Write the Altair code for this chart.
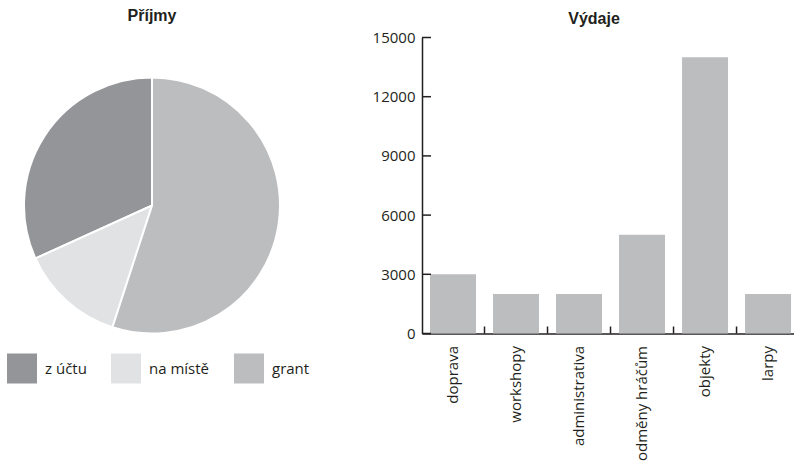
import altair as alt
import pandas as pd

# Příjmy (income) by source
income_labels = ["z účtu", "na místě", "grant"]
income_values = [8900, 3700, 15400]
income_colors = ["#939598", "#e1e2e3", "#bcbdbf"]

# Výdaje (expenses) by item
expense_labels = ["doprava", "workshopy", "administrativa", "odměny hráčům", "objekty", "larpy"]
expense_values = [3000, 2000, 2000, 5000, 14000, 2000]
y_ticks = [0, 3000, 6000, 9000, 12000, 15000]

FONT = "Open Sans"
TITLE_FONT = "Liberation Sans"
INK = "#231f20"
BAR = "#bcbdbf"

income = pd.DataFrame({
    "zdroj": income_labels,
    "castka": income_values,
    "poradi": list(range(len(income_labels))),
})
expense = pd.DataFrame({"polozka": expense_labels, "castka": expense_values})
tick_y = pd.DataFrame({"castka": y_ticks})
tick_x = pd.DataFrame({"polozka": expense_labels[1:]})

# --- pie -------------------------------------------------------------------
pie = (
    alt.Chart(
        income,
        title=alt.Title("Příjmy", font=TITLE_FONT, fontSize=16, fontWeight=900,
                        color=INK, anchor="middle", frame="group", offset=14),
    )
    .mark_arc(outerRadius=128, stroke="white", strokeWidth=2)
    .encode(
        theta=alt.Theta("castka:Q", stack=True),
        color=alt.Color(
            "zdroj:N",
            scale=alt.Scale(domain=income_labels, range=income_colors),
            legend=alt.Legend(
                title=None, orient="none", direction="horizontal",
                legendX=7, legendY=316,
                symbolType="square", symbolSize=900, symbolStrokeWidth=0,
                symbolOpacity=1, labelFont=FONT, labelFontSize=15,
                labelColor=INK, labelOffset=8, columnPadding=24,
            ),
        ),
        order=alt.Order("poradi:Q", sort="descending"),
    )
    .properties(width=304, height=336)
)

# --- bars ------------------------------------------------------------------
x_scale = alt.Scale(domain=expense_labels, paddingInner=0.27, paddingOuter=0.087, align=0.73)
x_axis = alt.Axis(
    labelAngle=-90, labelFont=FONT, labelFontSize=15, labelColor=INK,
    labelPadding=12, ticks=False, domainColor=INK, domainWidth=1.5,
)
y_axis = alt.Axis(
    values=y_ticks, format="d", labelFont=FONT, labelFontSize=15, labelColor=INK,
    labelPadding=7, ticks=False, grid=False, domainColor=INK, domainWidth=1.5,
)
y_scale = alt.Scale(domain=[0, 15000], nice=False)

bars = alt.Chart(expense).mark_bar(color=BAR).encode(
    x=alt.X("polozka:N", scale=x_scale, axis=x_axis, title=None, sort=expense_labels),
    y=alt.Y("castka:Q", scale=y_scale, axis=y_axis, title=None),
)

# inward ticks on the value axis
y_tick_marks = alt.Chart(tick_y).mark_tick(
    color=INK, orient="horizontal", size=9, thickness=1.5, opacity=1
).encode(
    y=alt.Y("castka:Q", scale=y_scale, axis=y_axis, title=None),
    x=alt.value(4.5),
)

# upward ticks between the categories
x_tick_marks = alt.Chart(tick_x).mark_rule(color=INK, strokeWidth=1.5, xOffset=-8.5).encode(
    x=alt.X("polozka:N", scale=x_scale, axis=x_axis, title=None,
            sort=expense_labels, bandPosition=0),
    y=alt.value(296),
    y2=alt.value(289),
)

bar_chart = (
    alt.layer(
        bars, y_tick_marks, x_tick_marks,
        title=alt.Title("Výdaje", font=TITLE_FONT, fontSize=16, fontWeight=900,
                        color=INK, anchor="middle", frame="group", offset=4, dx=-14),
    )
    .properties(width=372, height=296)
)

chart = (
    alt.hconcat(pie, bar_chart, spacing=68)
    .properties(padding={"left": 0, "top": 7.5, "right": 0, "bottom": 0})
    .configure_view(stroke=None)
)

chart.save("out.html", embed_options={"renderer": "svg", "actions": False})
